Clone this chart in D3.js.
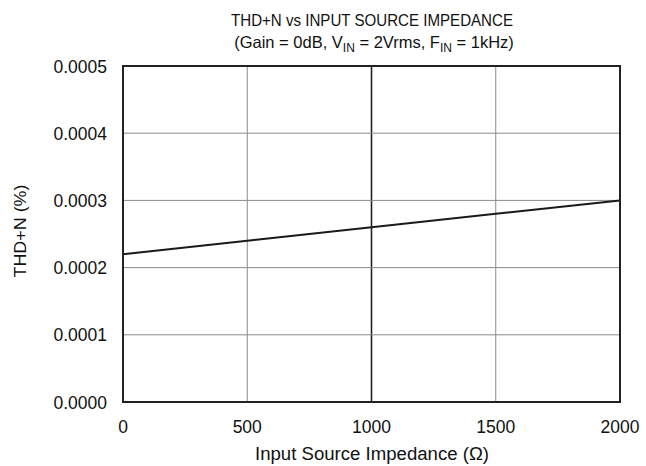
<!DOCTYPE html>
<html><head><meta charset="utf-8">
<script src="https://cdn.jsdelivr.net/npm/d3@7"></script>
<style>body{margin:0;background:#fff;} text{font-family:"Liberation Sans",Arial,sans-serif;fill:#111;}</style>
</head><body>
<svg id="c" width="646" height="466"></svg>
<script>
const impedance = [0, 500, 1000, 1500, 2000];
const thdn = [0.00022, 0.00024, 0.00026, 0.00028, 0.00030];
const xTicks = [0, 500, 1000, 1500, 2000];
const yTicks = [0, 0.0001, 0.0002, 0.0003, 0.0004, 0.0005];

const svg = d3.select("#c");
const L = 123, R = 620, T = 66, B = 402;
const x = d3.scaleLinear().domain([0, 2000]).range([L, R]);
const y = d3.scaleLinear().domain([0, 0.0005]).range([B, T]);

// grid
svg.append("g").selectAll("line").data(xTicks.slice(1, -1)).join("line")
  .attr("x1", d => x(d)).attr("x2", d => x(d)).attr("y1", T).attr("y2", B)
  .attr("stroke", d => d === 1000 ? "#222" : "#8a8a8a").attr("stroke-width", d => d === 1000 ? 1.6 : 1);
svg.append("g").selectAll("line").data(yTicks.slice(1, -1)).join("line")
  .attr("x1", L).attr("x2", R).attr("y1", d => y(d)).attr("y2", d => y(d))
  .attr("stroke", "#8a8a8a").attr("stroke-width", 1);

// line
svg.append("path").datum(impedance.map((d, i) => [d, thdn[i]]))
  .attr("fill", "none").attr("stroke", "#1a1a1a").attr("stroke-width", 2)
  .attr("d", d3.line().x(d => x(d[0])).y(d => y(d[1])));

// frame
svg.append("rect").attr("x", L).attr("y", T).attr("width", R - L).attr("height", B - T)
  .attr("fill", "none").attr("stroke", "#222").attr("stroke-width", 2);

// axes tick labels
svg.append("g").selectAll("text").data(xTicks).join("text")
  .attr("x", d => x(d)).attr("y", 433).attr("text-anchor", "middle")
  .style("font-size", "17.5px").text(d => d);
svg.append("g").selectAll("text").data(yTicks).join("text")
  .attr("x", 107).attr("y", d => y(d) + 6.5).attr("text-anchor", "end")
  .style("font-size", "17.5px").text(d => d.toFixed(4));

// titles
svg.append("text").attr("x", 372).attr("y", 26).attr("text-anchor", "middle")
  .attr("textLength", 282).attr("lengthAdjust", "spacingAndGlyphs")
  .style("font-size", "17px").text("THD+N vs INPUT SOURCE IMPEDANCE");
const t2 = svg.append("text").attr("x", 374).attr("y", 48).attr("text-anchor", "middle")
  .style("font-size", "16.5px");
t2.append("tspan").text("(Gain = 0dB, V");
t2.append("tspan").attr("dy", 4).style("font-size", "12px").text("IN");
t2.append("tspan").attr("dy", -4).text(" = 2Vrms, F");
t2.append("tspan").attr("dy", 4).style("font-size", "12px").text("IN");
t2.append("tspan").attr("dy", -4).text(" = 1kHz)");

svg.append("text").attr("x", 372).attr("y", 460).attr("text-anchor", "middle")
  .attr("textLength", 234).attr("lengthAdjust", "spacingAndGlyphs")
  .style("font-size", "17.5px").text("Input Source Impedance (Ω)");
svg.append("text").attr("transform", "translate(26,231) rotate(-90)").attr("text-anchor", "middle")
  .attr("textLength", 93).attr("lengthAdjust", "spacingAndGlyphs")
  .style("font-size", "17px").text("THD+N (%)");
</script>
</body></html>
